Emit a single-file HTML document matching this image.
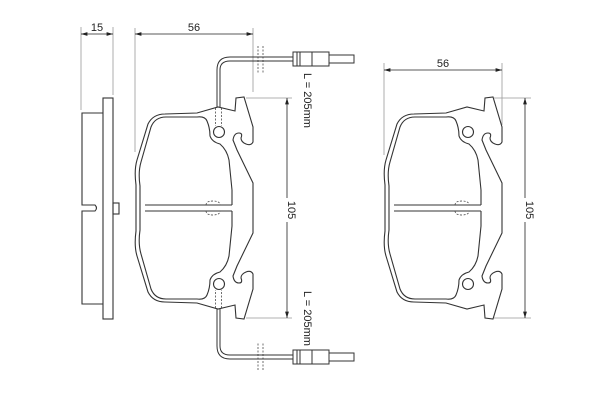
<!DOCTYPE html>
<html><head><meta charset="utf-8"><style>
html,body{margin:0;padding:0;background:#fff;}
svg{display:block}
text{font-family:"Liberation Sans",sans-serif;fill:#222;}
</style></head><body>
<svg width="600" height="400" viewBox="0 0 600 400" xmlns="http://www.w3.org/2000/svg">
<defs>
<marker id="a" viewBox="0 0 10 6" refX="10" refY="3" markerWidth="8" markerHeight="5" orient="auto-start-reverse"><path d="M0,0 L10,3 L0,6 z" fill="#222"/></marker>
<g id="half" fill="none" stroke="#333" stroke-width="1.1">
<path d="M136,208 L136,185 Q134,170 137,160 L148,124 Q153,114 165,114 L197,113 L218,107 L235,111 L236,98 L244,97 L253,127 L253,142 Q251,146 246,144 Q241,142 241,138 Q243,133 239,133 Q234,133 233,140 L237,150 L253,183 L253,208"/>
<path d="M140,208 L140,186 Q138,172 141,162 L151,127 Q155,117 166,117 L197,117 Q205,116 207,121 Q210,128 210,136 Q212,142 220,144 Q227,150 229,160 L232,190 L232,205"/>
<circle cx="219" cy="132" r="5.5"/>
<line x1="145" y1="205" x2="232" y2="205"/>
<path d="M206,205 Q206,201 213,201 Q220,201 220,205" stroke-dasharray="2,1.5" stroke-width="0.7"/>
</g>
<g id="pad">
<use href="#half"/>
<use href="#half" transform="translate(0,416) scale(1,-1)"/>
</g>
<g id="wire" fill="none" stroke="#333" stroke-width="1">
<path d="M217,107 L217,70 Q217,57 230,57 L293,57"/>
<path d="M220,107 L220,70 Q220,61 230,61 L293,61"/>
<g stroke-dasharray="2,1.5" stroke-width="0.7">
<line x1="215.5" y1="108" x2="215.5" y2="126"/><line x1="221.5" y1="108" x2="221.5" y2="126"/>
<line x1="258" y1="46" x2="258" y2="74"/><line x1="263" y1="46" x2="263" y2="74"/>
</g>
<rect x="293" y="52" width="36" height="14" fill="#fff"/>
<line x1="297" y1="52" x2="297" y2="66"/><line x1="300" y1="52" x2="300" y2="66"/><line x1="312" y1="52" x2="312" y2="66"/>
<rect x="329" y="55" width="25" height="8" fill="#fff"/>
</g>
</defs>

<!-- side view -->
<g fill="none" stroke="#333" stroke-width="1.1">
<rect x="103" y="98" width="10" height="221"/>
<path d="M103,113 L82,113 L82,205 L95,205 Q98,208 95,211 L82,211 L82,304 L103,304"/>
<rect x="113" y="203" width="6" height="11"/>
</g>
<g stroke="#999" stroke-width="0.8">
<line x1="81" y1="27" x2="81" y2="110"/><line x1="113" y1="27" x2="113" y2="95"/>
<line x1="135" y1="28" x2="135" y2="152"/><line x1="253" y1="28" x2="253" y2="92"/>
<line x1="246" y1="98" x2="292" y2="98"/><line x1="246" y1="318" x2="292" y2="318"/>
<line x1="384" y1="63" x2="384" y2="155"/><line x1="502" y1="63" x2="502" y2="125"/>
<line x1="494" y1="98" x2="531" y2="98"/><line x1="494" y1="318" x2="531" y2="318"/>
</g>
<g stroke="#222" stroke-width="0.8">
<line x1="81" y1="34" x2="113" y2="34" marker-start="url(#a)" marker-end="url(#a)"/>
<line x1="135" y1="34" x2="253" y2="34" marker-start="url(#a)" marker-end="url(#a)"/>
<line x1="287" y1="98" x2="287" y2="318" marker-start="url(#a)" marker-end="url(#a)"/>
<line x1="384" y1="70" x2="502" y2="70" marker-start="url(#a)" marker-end="url(#a)"/>
<line x1="525" y1="98" x2="525" y2="318" marker-start="url(#a)" marker-end="url(#a)"/>
</g>
<text x="97" y="31" font-size="11" text-anchor="middle">15</text>
<text x="194" y="31" font-size="11" text-anchor="middle">56</text>
<text x="443" y="67" font-size="11" text-anchor="middle">56</text>

<use href="#pad"/>
<use href="#pad" transform="translate(249,0)"/>
<use href="#wire"/>
<use href="#wire" transform="translate(0,416) scale(1,-1)"/>

<rect x="284" y="198" width="14" height="24" fill="#fff"/>
<text font-size="11" text-anchor="middle" transform="translate(288,210) rotate(90)">105</text>
<rect x="522" y="198" width="14" height="24" fill="#fff"/>
<text font-size="11" text-anchor="middle" transform="translate(526,210) rotate(90)">105</text>
<text font-size="11" transform="translate(304,73) rotate(90)">L = 205mm</text>
<text font-size="11" transform="translate(304,291) rotate(90)">L = 205mm</text>
</svg>
</body></html>
